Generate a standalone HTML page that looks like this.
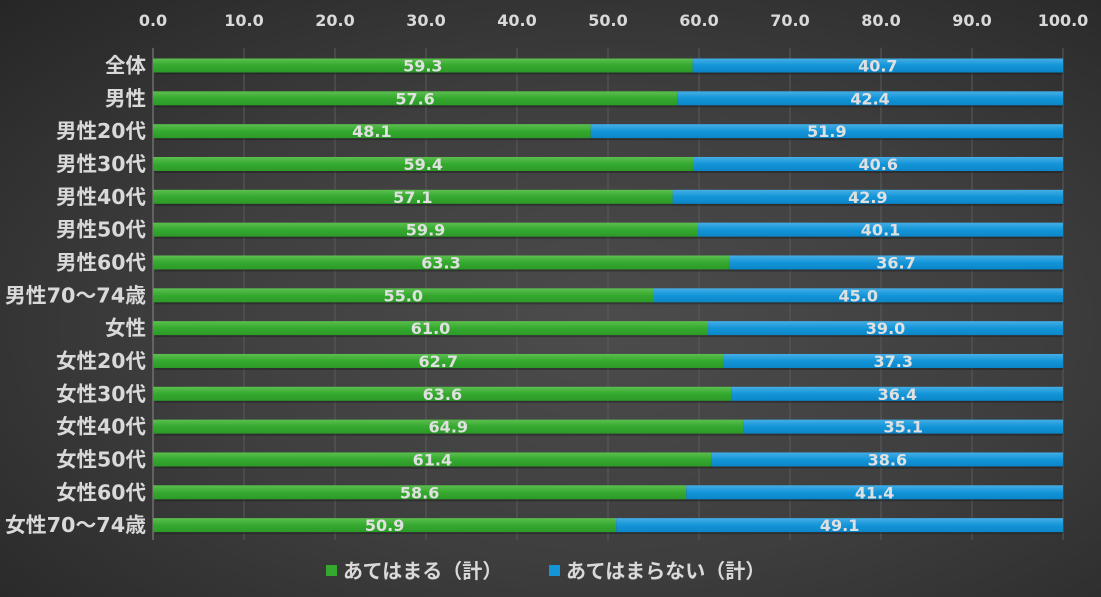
<!DOCTYPE html>
<html><head><meta charset="utf-8"><style>
html,body{margin:0;padding:0;}
body{width:1101px;height:597px;overflow:hidden;background:radial-gradient(ellipse at 55% 55%,#4c4c4c 0%,#3e3e3e 50%,#262626 100%);}
svg{display:block;font-family:"DejaVu Sans","Noto Sans CJK JP",sans-serif;font-weight:bold;}
</style></head><body>
<svg width="1101" height="597" xmlns="http://www.w3.org/2000/svg">
<defs>
<linearGradient id="g" x1="0" y1="0" x2="0" y2="1"><stop offset="0" stop-color="#5cbf4f"/><stop offset="0.5" stop-color="#35a92f"/><stop offset="1" stop-color="#2c9a28"/></linearGradient>
<linearGradient id="b" x1="0" y1="0" x2="0" y2="1"><stop offset="0" stop-color="#45aee6"/><stop offset="0.5" stop-color="#1395d8"/><stop offset="1" stop-color="#0b86c8"/></linearGradient>
</defs>
<g id="grid" stroke="#5a5a5a" stroke-width="1"></g>
<line x1="153" y1="48" x2="153" y2="540" stroke="#8a8a8a"/>
<g id="ticks" fill="#d9d9d9" font-size="16" text-anchor="middle"></g>
<g id="bars"></g>
<g font-size="20" fill="#d9d9d9">
<rect x="326" y="565" width="11" height="11" fill="#35a92f"/>
<text x="343" y="578">あてはまる（計）</text>
<rect x="549" y="565" width="11" height="11" fill="#1395d8"/>
<text x="566" y="578">あてはまらない（計）</text>
</g>
</svg>
<script>
var ns="http://www.w3.org/2000/svg";
function el(t,a,p,txt){var e=document.createElementNS(ns,t);for(var k in a)e.setAttribute(k,a[k]);if(txt!==undefined)e.textContent=txt;p.appendChild(e);return e;}
var grid=document.getElementById('grid'),ticks=document.getElementById('ticks'),bars=document.getElementById('bars');
for(var i=0;i<=10;i++){var x=153+i*91;if(i>0)el('line',{x1:x,y1:48,x2:x,y2:540},grid);el('text',{x:x,y:26},ticks,(i*10).toFixed(1));}
var L=["全体","男性","男性20代","男性30代","男性40代","男性50代","男性60代","男性70～74歳","女性","女性20代","女性30代","女性40代","女性50代","女性60代","女性70～74歳"];
var V=[59.3,57.6,48.1,59.4,57.1,59.9,63.3,55.0,61.0,62.7,63.6,64.9,61.4,58.6,50.9];
for(var r=0;r<15;r++){var c=65.5+r*32.83,w=V[r]*9.1;
el('rect',{x:155,y:c-7+2,width:908,height:14,fill:'#1a1a1a',opacity:0.45},bars);
el('rect',{x:153,y:c-7,width:w,height:14,fill:'url(#g)'},bars);
el('rect',{x:153+w,y:c-7,width:910-w,height:14,fill:'url(#b)'},bars);
el('text',{x:153+w/2,y:c+6,'text-anchor':'middle','font-size':16,fill:'#e0e0e0'},bars,V[r].toFixed(1));
el('text',{x:153+w+(910-w)/2,y:c+6,'text-anchor':'middle','font-size':16,fill:'#e0e0e0'},bars,(100-V[r]).toFixed(1));
var a={x:146,y:c+7,'text-anchor':'end','font-size':20.5,fill:'#d9d9d9'};
if(L[r].indexOf('～')>=0){a.textLength=141;a.lengthAdjust='spacingAndGlyphs';}
el('text',a,bars,L[r]);}
</script>
</body></html>
